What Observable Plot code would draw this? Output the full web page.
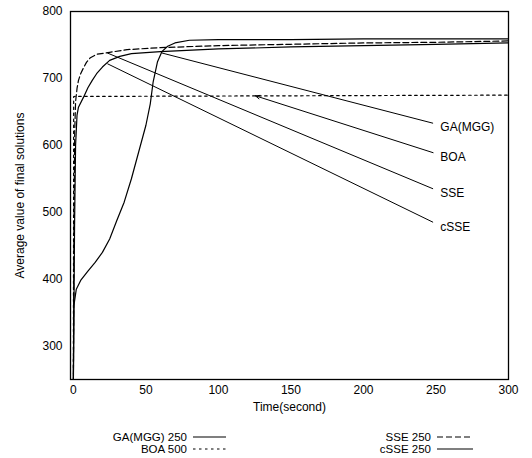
<!DOCTYPE html>
<html><head><meta charset="utf-8">
<script src="https://cdn.jsdelivr.net/npm/d3@7"></script>
<script src="https://cdn.jsdelivr.net/npm/@observablehq/plot@0.6"></script>
<style>
body{margin:0;background:#fff;font-family:"Liberation Sans",Arial,sans-serif;}
#wrap{position:relative;width:532px;height:458px;}
#legend{position:absolute;left:0;top:420px;width:532px;height:38px;font-size:11.5px;color:#000;}
.li{position:absolute;height:12px;line-height:12px;white-space:nowrap;}
</style></head>
<body><div id="wrap"><div id="chart"></div><div id="legend"></div></div>
<script>
// GA(MGG) 250 (solid, late rise)
const gaT = [0, 0.3, 2, 5, 10, 15, 20, 25, 30, 35, 40, 45, 50, 53, 55, 58, 61, 65, 70, 80, 100, 150, 200, 250, 300];
const gaV = [255, 360, 385, 398, 412, 425, 440, 460, 488, 515, 550, 590, 630, 662, 695, 725, 740, 748, 753, 757, 758, 758, 759, 759, 759];
// BOA 500 (dotted)
const boaT = [0, 0.2, 300];
const boaV = [250, 673, 675];
// SSE 250 (dashed)
const sseT = [0, 0.4, 0.9, 1.5, 2.5, 3.5, 5, 7, 9, 11.7, 16, 25, 37, 60, 100, 150, 200, 250, 300];
const sseV = [250, 480, 620, 665, 685, 697, 707, 716, 724, 731, 736, 739, 743, 746, 749, 751, 753, 754, 756];
// cSSE 250 (solid, early rise)
const csseT = [0, 0.8, 1.5, 2.5, 3.5, 7, 10, 13, 16, 20, 25, 32, 40, 60, 100, 150, 200, 250, 300];
const csseV = [250, 480, 600, 645, 657, 672, 686, 697, 707, 717, 727, 733, 737, 740, 744, 747, 749, 751, 753];

// annotation labels and pointer lines
const labelNames = ["GA(MGG)", "BOA", "SSE", "cSSE"];
const labelT = [253, 253, 253, 253];
const labelV = [627, 582, 529, 477];
const ptrFromT = [61, 125.5, 23.4, 23.4];
const ptrFromV = [738, 674, 738, 722];
const ptrToT = [248, 248, 248, 248];
const ptrToV = [633, 589, 535, 485];

const xTicks = [0, 50, 100, 150, 200, 250, 300];
const yTicks = [300, 400, 500, 600, 700, 800];

const legendNames = ["GA(MGG) 250", "BOA 500", "SSE 250", "cSSE 250"];

const toRows = (T, V) => T.map((t, i) => ({t, v: V[i]}));
const ga = toRows(gaT, gaV), boa = toRows(boaT, boaV), sse = toRows(sseT, sseV), csse = toRows(csseT, csseV);
const ptrs = labelNames.map((n, i) => ({n, x1: ptrToT[i], y1: ptrToV[i], x2: ptrFromT[i], y2: ptrFromV[i], lt: labelT[i], lv: labelV[i]}));
const lineOpts = {x: "t", y: "v", stroke: "#000", strokeWidth: 1.2, curve: "linear"};

const chart = Plot.plot({
  width: 532, height: 420,
  marginTop: 11, marginBottom: 41, marginLeft: 70, marginRight: 24,
  style: {fontFamily: "Liberation Sans, Arial, sans-serif", fontSize: "12px", color: "#000", background: "#fff"},
  x: {domain: [-2, 300]},
  y: {domain: [250, 800]},
  marks: [
    Plot.axisX(xTicks, {tickSize: 0, tickPadding: 6, label: "Time(second)", labelAnchor: "center", labelOffset: 31, labelArrow: "none"}),
    Plot.axisY(yTicks, {tickSize: 0, tickPadding: 8, label: "Average value of final solutions", labelAnchor: "center", labelOffset: 55, labelArrow: "none"}),
    Plot.frame({stroke: "#000", strokeWidth: 1.3}),
    Plot.line(boa, {...lineOpts, strokeDasharray: "2.5,3.5"}),
    Plot.line(sse, {...lineOpts, strokeDasharray: "6,3"}),
    Plot.line(csse, lineOpts),
    Plot.line(ga, lineOpts),
    Plot.link(ptrs.filter(d => d.n !== "BOA"), {x1: "x1", y1: "y1", x2: "x2", y2: "y2", stroke: "#000", strokeWidth: 1}),
    Plot.arrow(ptrs.filter(d => d.n === "BOA"), {x1: "x1", y1: "y1", x2: "x2", y2: "y2", stroke: "#000", strokeWidth: 1, headLength: 7, headAngle: 45}),
    Plot.text(ptrs, {x: "lt", y: "lv", text: "n", textAnchor: "start", fontSize: 12, fill: "#000"})
  ]
});
document.getElementById("chart").appendChild(chart);

// legend (HTML)
const leg = document.getElementById("legend");
const legStyles = ["", "2.5,3.5", "6,3", ""];
const legPos = [
  {top: 16.5, lx: 193},
  {top: 29, lx: 193},
  {top: 16.5, lx: 437},
  {top: 29, lx: 437}
];
legendNames.forEach((name, i) => {
  const p = legPos[i];
  const t = document.createElement("div");
  t.className = "li";
  t.style.right = (532 - (p.lx - 6)) + "px";
  t.style.top = (p.top - 6) + "px";
  t.textContent = name;
  leg.appendChild(t);
  const s = document.createElementNS("http://www.w3.org/2000/svg", "svg");
  s.setAttribute("width", 36); s.setAttribute("height", 4);
  s.style.position = "absolute"; s.style.left = p.lx + "px"; s.style.top = (p.top - 2) + "px";
  const l = document.createElementNS("http://www.w3.org/2000/svg", "line");
  l.setAttribute("x1", 0); l.setAttribute("x2", i < 2 ? 33 : 36); l.setAttribute("y1", 2); l.setAttribute("y2", 2);
  l.setAttribute("stroke", "#000"); l.setAttribute("stroke-width", 1.2);
  if (legStyles[i]) l.setAttribute("stroke-dasharray", legStyles[i]);
  s.appendChild(l); leg.appendChild(s);
});
</script></body></html>
